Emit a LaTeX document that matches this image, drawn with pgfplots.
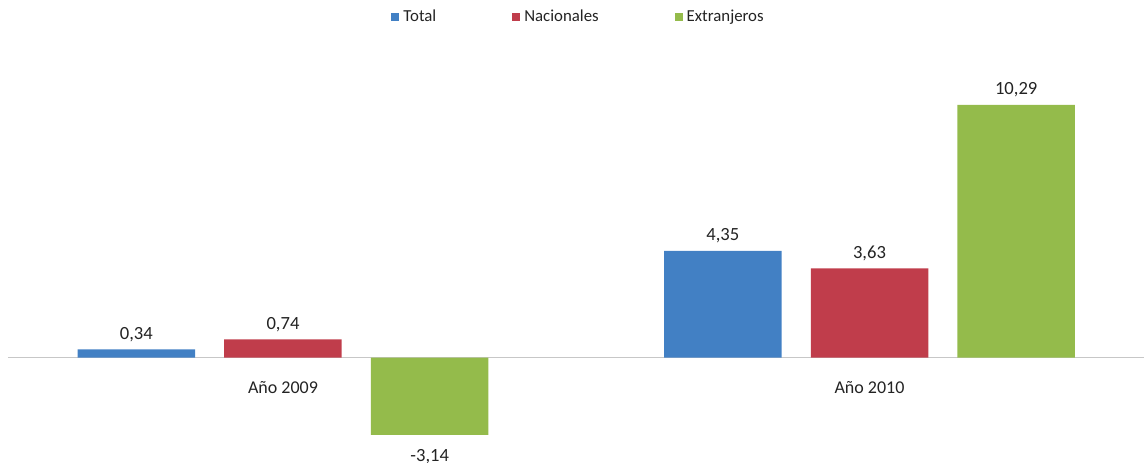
\documentclass[border=0pt]{standalone}
\usepackage{pgfplots}
\pgfplotsset{compat=1.18}
\usepackage{fontspec}
\setmainfont{Carlito}
\definecolor{cTotal}{RGB}{66,128,196}
\definecolor{cNac}{RGB}{192,61,75}
\definecolor{cExt}{RGB}{148,187,75}
\definecolor{txt}{RGB}{35,35,35}
\begin{document}
\begin{tikzpicture}
\begin{axis}[
  name=ax,
  scale only axis,
  width=572pt, height=231.5pt,
  xmin=-0.4825, xmax=1.468,
  ymin=-4.286, ymax=14.558,
  axis x line=middle,
  axis y line=none,
  axis line style={draw=none, -},
  xtick={0,1},
  xticklabels={Año 2009, Año 2010},
  major tick length=0pt,
  ytick=\empty,
  xticklabel style={font=\fontsize{9}{11}\selectfont, text=txt, yshift=-8.5pt},
  ybar,
  bar width=58.75pt,
  nodes near coords,
  nodes near coords align=vertical,
  visualization depends on=rawy\as\ry,
  every node near coord/.append style={font=\fontsize{9.3}{11}\selectfont, text=txt, inner sep=1pt, yshift={(\ry<0)*(-8.6)+2.7}},
  /pgf/number format/.cd, use comma, fixed, fixed zerofill, precision=2, assume math mode=true,
  /pgfplots/.cd,
  legend style={at={(rel axis cs:0.5066,0.9633)}, anchor=center, draw=none, fill=none,
    font=\fontsize{8.4}{10}\selectfont, text=txt, legend columns=-1,
    /tikz/every even column/.append style={column sep=36pt}},
  legend image code/.code={\fill[#1] (0pt,-2pt) rectangle (4pt,2pt);},
]
\draw[black!22] (axis cs:-0.4689,0) -- (axis cs:1.468,0);
\addplot[fill=cTotal, draw=none, bar shift=-73.35pt] coordinates {(0,0.34) (1,4.35)};
\addplot[fill=cNac, draw=none, bar shift=0pt] coordinates {(0,0.74) (1,3.63)};
\addplot[fill=cExt, draw=none, bar shift=73.35pt] coordinates {(0,-3.14) (1,10.29)};
\legend{Total, Nacionales, Extranjeros}
\end{axis}
\pgfresetboundingbox
\path (ax.south west) rectangle (ax.north east);
\end{tikzpicture}
\end{document}
